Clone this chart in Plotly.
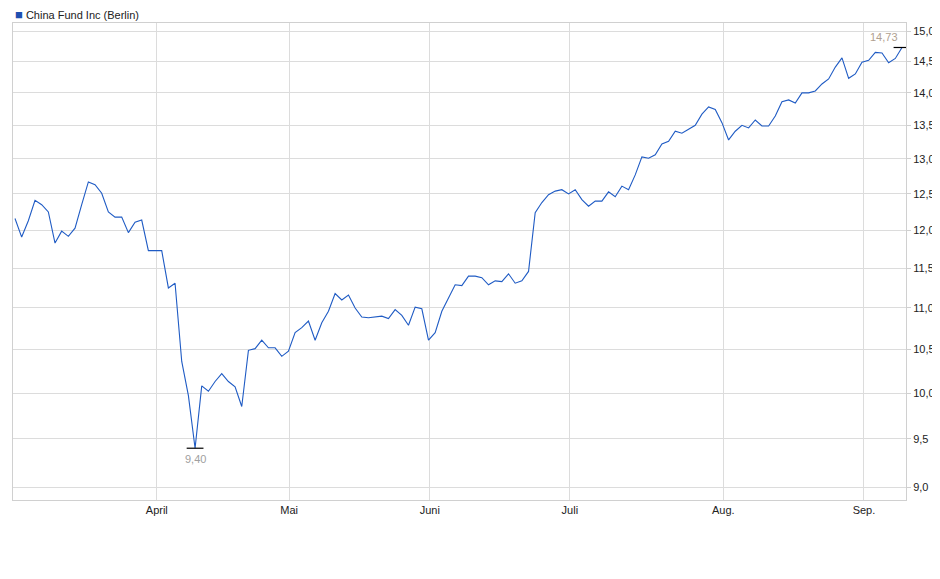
import math
import plotly.graph_objects as go

# closing prices, one per trading day
prices = [
    12.16, 11.91, 12.13, 12.41, 12.35, 12.25, 11.83, 11.99, 11.92, 12.03,
    12.35, 12.67, 12.63, 12.51, 12.25, 12.18, 12.18, 11.97, 12.11, 12.14,
    11.73, 11.73, 11.73, 11.25, 11.31, 10.36, 9.97, 9.40, 10.08, 10.02,
    10.13, 10.22, 10.13, 10.07, 9.85, 10.49, 10.51, 10.61, 10.52, 10.52,
    10.42, 10.48, 10.70, 10.76, 10.84, 10.61, 10.82, 10.96, 11.18, 11.10,
    11.16, 11.00, 10.89, 10.88, 10.89, 10.90, 10.87, 10.98, 10.91, 10.79,
    11.01, 10.99, 10.61, 10.70, 10.96, 11.13, 11.29, 11.28, 11.40, 11.40,
    11.38, 11.29, 11.34, 11.33, 11.43, 11.31, 11.34, 11.46, 12.24, 12.38,
    12.49, 12.54, 12.56, 12.50, 12.56, 12.42, 12.33, 12.40, 12.40, 12.53,
    12.46, 12.61, 12.56, 12.77, 13.03, 13.01, 13.06, 13.22, 13.26, 13.41,
    13.38, 13.44, 13.50, 13.67, 13.78, 13.74, 13.54, 13.28, 13.41, 13.50,
    13.46, 13.58, 13.49, 13.49, 13.64, 13.86, 13.89, 13.84, 14.00, 14.00,
    14.03, 14.14, 14.22, 14.41, 14.56, 14.23, 14.30, 14.49, 14.52, 14.65,
    14.64, 14.48, 14.55, 14.73,
]
days = list(range(len(prices)))

month_pos = [21.26, 41.1, 62.2, 83.2, 106.2, 127.3]
month_labels = ["April", "Mai", "Juni", "Juli", "Aug.", "Sep."]
y_ticks = [9.0, 9.5, 10.0, 10.5, 11.0, 11.5, 12.0, 12.5, 13.0, 13.5, 14.0, 14.5, 15.0]

lo = prices.index(min(prices))
hi = prices.index(max(prices))

fig = go.Figure()
fig.add_trace(go.Scatter(x=days, y=prices, mode="lines",
                         line=dict(color="#1f5bc4", width=1.1), hoverinfo="y"))
# min / max markers
fig.add_trace(go.Scatter(x=[lo, hi], y=[prices[lo], prices[hi]], mode="markers",
                         marker=dict(symbol="line-ew", size=12, line=dict(color="black", width=1.2)),
                         hoverinfo="skip"))

fig.add_annotation(x=lo, y=math.log10(prices[lo]), text=f"{prices[lo]:.2f}".replace(".", ","),
                   showarrow=False, yanchor="top", yshift=-3, font=dict(color="#a0a0a0", size=11))
fig.add_annotation(x=hi, y=math.log10(prices[hi]), text=f"{prices[hi]:.2f}".replace(".", ","),
                   showarrow=False, yanchor="bottom", xanchor="right", yshift=2, xshift=-2,
                   font=dict(color="#b0a090", size=11))
fig.add_annotation(xref="paper", yref="paper", x=0.0, y=1.0, yshift=9, yanchor="middle", xanchor="left",
                   text="<span style='color:#1f4fb0;font-size:13px'>■</span> China Fund Inc (Berlin)",
                   showarrow=False, font=dict(size=11, color="#222"))

fig.update_xaxes(range=[-0.3, 133.6], tickvals=month_pos, ticktext=month_labels,
                 showgrid=True, gridcolor="#dcdcdc", gridwidth=1, zeroline=False,
                 showline=True, linecolor="#d0d0d0", mirror=True, ticks="",
                 tickfont=dict(size=11, color="#222"), automargin=False)
fig.update_yaxes(type="log", range=[math.log10(8.87), math.log10(15.14)], side="right",
                 tickvals=y_ticks, tickformat=".1f", showgrid=True, gridcolor="#dcdcdc",
                 showline=True, linecolor="#d0d0d0", mirror=True, ticks="outside",
                 ticklen=4, tickcolor="#d0d0d0", tickfont=dict(size=11, color="#222"),
                 automargin=False)

fig.update_layout(width=940, height=579, template="plotly_white", showlegend=False,
                  separators=",.", font=dict(family="Liberation Sans, Arial, sans-serif"),
                  margin=dict(l=5, r=42, t=15, b=87, autoexpand=False),
                  plot_bgcolor="white", paper_bgcolor="white")

fig.write_html("out.html")
